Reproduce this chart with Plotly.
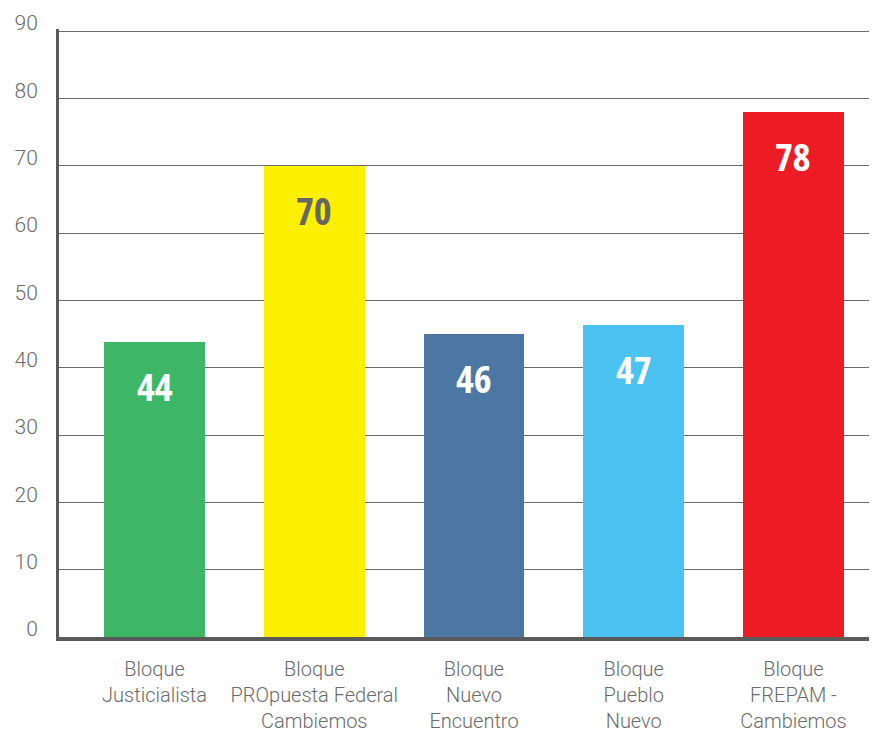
import plotly.graph_objects as go

categories = [
    "Bloque<br>Justicialista",
    "Bloque<br>PROpuesta Federal<br>Cambiemos",
    "Bloque<br>Nuevo<br>Encuentro",
    "Bloque<br>Pueblo<br>Nuevo",
    "Bloque<br>FREPAM -<br>Cambiemos",
]
values = [43.8, 70.0, 45.0, 46.4, 77.9]
value_labels = ["44", "70", "46", "47", "78"]
bar_colors = ["#3db766", "#fcef00", "#4c77a3", "#4bc2f0", "#ed1c24"]
label_colors = ["#ffffff", "#666666", "#ffffff", "#ffffff", "#ffffff"]
y_ticks = [0, 10, 20, 30, 40, 50, 60, 70, 80, 90]

fig = go.Figure()
fig.add_trace(go.Bar(
    x=categories, y=values,
    marker=dict(color=bar_colors, line=dict(width=0)),
    width=0.632, hoverinfo="skip",
))

for c, v, t, col in zip(categories, values, value_labels, label_colors):
    fig.add_annotation(
        x=c, y=v, text='<span style="font-stretch:75%">' + t + '</span>',
        showarrow=False, yshift=-44, yanchor="middle",
        font=dict(family="Open Sans", size=38, color=col, weight="bold"),
    )

fig.update_layout(
    width=869, height=723,
    margin=dict(l=51, r=0, t=21, b=94),
    paper_bgcolor="white", plot_bgcolor="white",
    showlegend=False,
    bargap=0,
    xaxis=dict(
        range=[-0.598, 4.523],
        automargin=False,
        showline=True, linewidth=4, linecolor="#5a5a5a",
        showgrid=False, ticks="",
        tickfont=dict(family="Roboto, Liberation Sans, sans-serif", size=20,
                      color="#6a6a6a", weight=300),
        ticklabelstandoff=11,
    ),
    yaxis=dict(
        range=[0, 90.3],
        automargin=False,
        tickvals=y_ticks,
        showline=True, linewidth=3, linecolor="#5a5a5a",
        showgrid=True, gridcolor="#6a6a6a", gridwidth=1,
        zeroline=False, ticks="",
        tickfont=dict(family="Roboto, Liberation Sans, sans-serif", size=21,
                      color="#6a6a6a", weight=300),
        ticklabelshift=-8, ticklabelstandoff=14,
    ),
)

fig.write_html("out.html")
